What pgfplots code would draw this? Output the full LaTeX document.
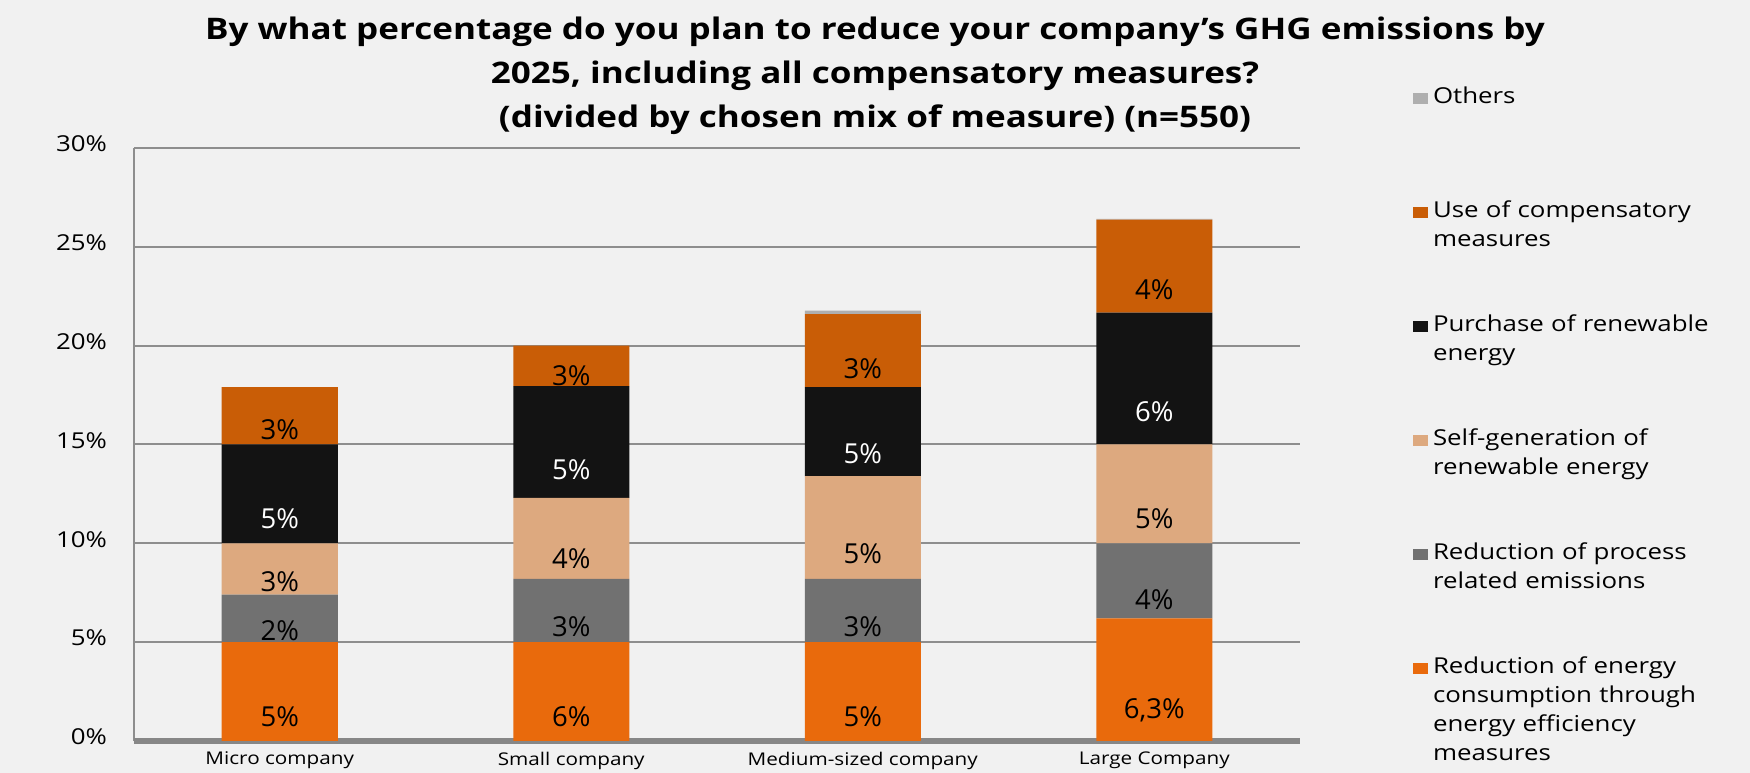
\documentclass[border=0pt]{standalone}
\usepackage{pgfplots}
\pgfplotsset{compat=1.18}
\usepackage{pgfplotstable}
\usepackage{fontspec}
\setmainfont{Open Sans}[FakeStretch=1.18]
\newfontfamily\labfont{Open Sans}
\definecolor{bg}{HTML}{F1F1F1}
\definecolor{cEnergy}{HTML}{E96A0C}
\definecolor{cProcess}{HTML}{717171}
\definecolor{cSelf}{HTML}{DDA97F}
\definecolor{cPurchase}{HTML}{131313}
\definecolor{cComp}{HTML}{C95D06}
\definecolor{cOthers}{HTML}{AFAFAF}
\definecolor{cGrid}{HTML}{8E8E8E}
\definecolor{cBase}{HTML}{878787}

% values in percent; lab = printed data label
\pgfplotstableread{
x y lab
0 5.0 5
1 5.0 6
2 5.0 5
3 6.2 6,3
}\energy
\pgfplotstableread{
x y lab
0 2.4 2
1 3.2 3
2 3.2 3
3 3.8 4
}\process
\pgfplotstableread{
x y lab
0 2.6 3
1 4.1 4
2 5.2 5
3 5.0 5
}\selfgen
\pgfplotstableread{
x y lab
0 5.0 5
1 5.65 5
2 4.5 5
3 6.67 6
}\purchase
\pgfplotstableread{
x y lab
0 2.9 3
1 2.05 3
2 3.7 3
3 4.7 4
}\comp
\pgfplotstableread{
x y
0 0
1 0
2 0.17
3 0.05
}\others

\pgfplotsset{
  seg/.style={fill=#1, draw=none,
    legend image code/.code={\fill[#1] (0bp,0bp) rectangle (7.5bp,5.3bp);}},
  lab/.style={nodes near coords={\pgfplotspointmeta\%},
    point meta=explicit symbolic,
    visualization depends on={\thisrow{y} \as \segh},
    every node near coord/.style={anchor=center, yshift=-\segh*2.47085bp,
      font=\labfont\fontsize{13.8}{15}\selectfont, text=#1, inner sep=0pt}},
}

\begin{document}
\begin{tikzpicture}
\fill[bg] (0,0) rectangle (875bp,386.5bp);
\begin{axis}[
  at={(67bp,16bp)}, anchor=south west,
  scale only axis, width=583bp, height=296.5bp,
  ybar stacked, bar width=58bp,
  xmin=-0.5, xmax=3.5, ymin=0, ymax=30,
  xtick={0,1,2,3},
  xticklabels={Micro company, Small company, Medium-sized company, Large Company},
  ytick={0,5,...,30},
  yticklabels={0\%,5\%,10\%,15\%,20\%,25\%,30\%},
  major tick length=0pt,
  axis line style={draw=none},
  ymajorgrids, grid style={line width=1bp, cGrid},
  extra y ticks={0}, extra y tick labels={},
  extra y tick style={grid=major, major grid style={line width=3bp, cBase}},
  extra x ticks={-0.5}, extra x tick labels={},
  extra x tick style={grid=major, major grid style={line width=1bp, cGrid}},
  xticklabel style={font=\fontsize{8.8}{10}\selectfont, yshift=-2bp},
  yticklabel style={font=\fontsize{11}{12}\selectfont, xshift=-10bp, yshift=2bp},
  reverse legend,
  legend style={draw=none, fill=none, at={(1,1)}, anchor=north west,
    xshift=56.5bp, yshift=31.2bp, inner sep=0pt, outer sep=0pt,
    row sep=0pt, column sep=2.5bp,
    cells={anchor=base west},
    nodes={inner sep=0pt, outer sep=0pt, text width=150bp, align=left,
      text height=9bp, text depth=48bp, font=\fontsize{11}{14.5}\selectfont}},
]
\addplot[seg=cEnergy, lab=black] table[x=x, y=y, meta=lab] {\energy};
\addlegendentry{Reduction of energy\\consumption through\\energy efficiency\\measures}
\addplot[seg=cProcess, lab=black] table[x=x, y=y, meta=lab] {\process};
\addlegendentry{Reduction of process\\related emissions}
\addplot[seg=cSelf, lab=black] table[x=x, y=y, meta=lab] {\selfgen};
\addlegendentry{Self-generation of\\renewable energy}
\addplot[seg=cPurchase, lab=white] table[x=x, y=y, meta=lab] {\purchase};
\addlegendentry{Purchase of renewable\\energy}
\addplot[seg=cComp, lab=black] table[x=x, y=y, meta=lab] {\comp};
\addlegendentry{Use of compensatory\\measures}
\addplot[seg=cOthers] table[x=x, y=y] {\others};
\addlegendentry{Others}
\end{axis}
\node[align=center, font=\bfseries\fontsize{14.9}{22}\selectfont] at (437.5bp,348.5bp)
  {By what percentage do you plan to reduce your company’s GHG emissions by\\
   2025, including all compensatory measures?\\
   (divided by chosen mix of measure) (n=550)};
\pgfresetboundingbox
\useasboundingbox (0,0) rectangle (875bp,386.5bp);
\end{tikzpicture}
\end{document}
